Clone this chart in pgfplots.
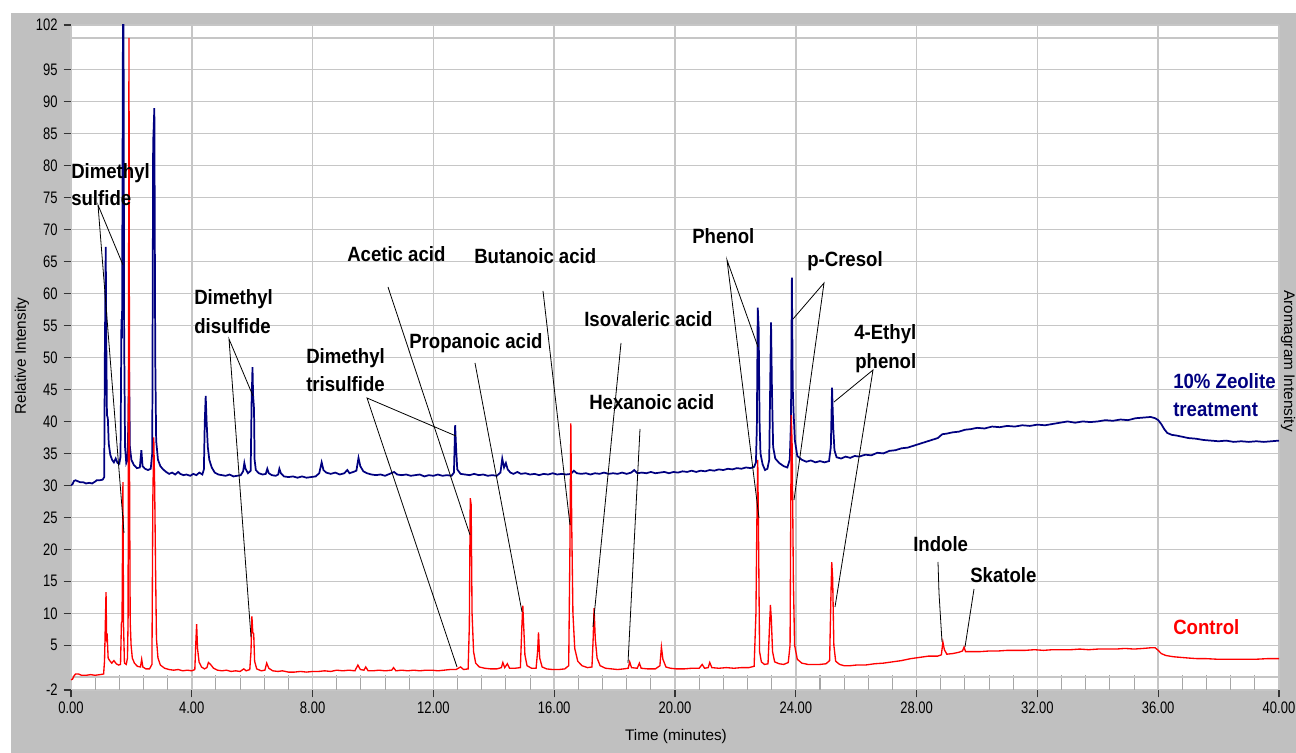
\documentclass[border=0pt]{standalone}
\usepackage{fontspec}
\setmainfont{Liberation Sans}
\newfontfamily\tickfont[FakeStretch=0.78]{Liberation Sans}
\newfontfamily\annfont[FakeStretch=0.9]{Liberation Sans}
\usepackage{pgfplots}
\pgfplotsset{compat=1.18}

\definecolor{bggray}{HTML}{C0C0C0}
\definecolor{gridgray}{HTML}{C6C6C6}
\definecolor{zeol}{HTML}{000080}
\definecolor{ctrl}{HTML}{FF0000}

\newcommand{\ann}{\annfont\bfseries\fontsize{15.5}{18}\selectfont}

\begin{document}
\begin{tikzpicture}
\useasboundingbox (0,0) rectangle (972pt,564.75pt);
\fill[white] (0,0) rectangle (972pt,564.75pt);
\fill[bggray] (8.25pt,0) rectangle (972pt,555pt);

\begin{axis}[
  at={(53.25pt,47.25pt)}, anchor=south west,
  width=906pt, height=498.75pt, scale only axis,
  xmin=0, xmax=40, ymin=-2, ymax=102,
  axis background/.style={fill=white},
  axis line style={draw=none},
  xtick pos=bottom, ytick pos=left,
  xtick={0,4,...,40},
  xticklabels={0.00,4.00,8.00,12.00,16.00,20.00,24.00,28.00,32.00,36.00,40.00},
  ytick={-2,5,10,15,20,25,30,35,40,45,50,55,60,65,70,75,80,85,90,95,102},
  yticklabels={-2,5,10,15,20,25,30,35,40,45,50,55,60,65,70,75,80,85,90,95,102},
  tick align=outside,
  major tick length=5.5pt,
  tick style={black!80, line width=0.8pt},
  xmajorgrids, ymajorgrids,
  grid style={gridgray, line width=1.1pt},
  tick label style={font=\tickfont\fontsize{12.5}{14}\selectfont},
  yticklabel style={xshift=-1pt},
  extra x ticks={0.8,1.6,2.4,3.2,4.8,5.6,6.4,7.2,8.8,9.6,10.4,11.2,12.8,13.6,14.4,15.2,16.8,17.6,18.4,19.2,20.8,21.6,22.4,23.2,24.8,25.6,26.4,27.2,28.8,29.6,30.4,31.2,32.8,33.6,34.4,35.2,36.8,37.6,38.4,39.2},
  extra x tick labels={},
  extra x tick style={xtick align=inside, major tick length=11pt, grid=none, tick style={black!35, line width=0.8pt}},
  extra y ticks={0,100},
  extra y tick labels={},
  extra y tick style={major tick length=0pt, grid=major},
]

% 10% Zeolite treatment
\addplot[zeol, line width=1.3pt] coordinates {
(0.00,30.0)(0.05,30.2)(0.10,30.7)(0.15,30.8)(0.20,30.7)(0.30,30.5)(0.40,30.5)(0.50,30.3)(0.60,30.4)(0.70,30.3)(0.80,30.6)(0.85,30.8)(0.95,30.8)(1.05,30.9)(1.10,31.3)(1.12,50)(1.15,67.3)(1.17,52)(1.19,41)(1.22,40.5)(1.25,36.5)(1.30,34.8)(1.36,34.0)(1.42,33.6)(1.48,34.2)(1.54,33.5)(1.60,33.4)(1.64,34.5)(1.67,56)(1.69,53)(1.72,102)(1.74,102)(1.76,53)(1.79,36)(1.83,33.5)(1.87,34)(1.90,40)(1.92,50)(1.95,36)(2.00,34)(2.08,33.2)(2.18,32.7)(2.28,32.8)(2.33,35.5)(2.37,33)(2.45,32.6)(2.55,32.4)(2.64,32.6)(2.69,35)(2.72,83.5)(2.76,89)(2.79,50)(2.82,37)(2.88,34)(2.96,33)(3.05,32.5)(3.15,32.1)(3.25,31.8)(3.35,32.0)(3.45,31.7)(3.55,32.1)(3.62,31.8)(3.72,31.6)(3.82,31.7)(3.95,31.5)(4.05,31.8)(4.15,31.6)(4.25,32.0)(4.35,31.7)(4.40,32.5)(4.43,40)(4.46,44)(4.49,40)(4.53,36)(4.58,34)(4.66,32.8)(4.76,32.0)(4.88,31.7)(5.00,31.6)(5.12,31.5)(5.25,31.7)(5.38,31.4)(5.50,31.5)(5.62,31.6)(5.70,32.2)(5.74,33.5)(5.78,32.6)(5.86,31.9)(5.95,32.3)(5.98,43)(6.01,48.5)(6.03,44)(6.06,42)(6.08,34)(6.12,32.4)(6.22,31.9)(6.35,31.7)(6.45,31.8)(6.50,32.6)(6.55,31.9)(6.65,31.6)(6.78,31.5)(6.86,31.7)(6.90,32.6)(6.95,31.9)(7.05,31.4)(7.20,31.3)(7.35,31.4)(7.50,31.2)(7.65,31.4)(7.80,31.2)(7.95,31.3)(8.10,31.4)(8.22,31.9)(8.30,33.6)(8.36,32.4)(8.45,32.0)(8.60,31.8)(8.75,32.0)(8.90,31.7)(9.05,31.9)(9.15,32.4)(9.22,31.9)(9.35,32.1)(9.45,32.3)(9.52,34.3)(9.58,33.0)(9.68,32.2)(9.80,31.9)(9.95,31.7)(10.10,31.6)(10.25,31.7)(10.40,31.5)(10.55,31.8)(10.70,32.1)(10.80,31.7)(10.95,31.6)(11.10,31.7)(11.25,31.5)(11.40,31.6)(11.55,31.7)(11.70,31.4)(11.85,31.6)(12.00,31.5)(12.15,31.7)(12.30,31.5)(12.45,31.6)(12.60,31.5)(12.68,32.0)(12.72,39.4)(12.75,36)(12.79,32.5)(12.90,31.8)(13.05,31.7)(13.20,31.6)(13.35,31.8)(13.50,31.6)(13.65,31.7)(13.80,31.5)(13.95,31.6)(14.10,31.5)(14.22,32.0)(14.28,34.2)(14.34,32.8)(14.40,33.5)(14.46,32.5)(14.55,32.0)(14.65,31.8)(14.78,32.1)(14.90,31.8)(15.05,31.9)(15.20,31.7)(15.35,31.8)(15.50,31.6)(15.65,31.8)(15.80,31.7)(15.95,31.9)(16.10,31.7)(16.25,31.8)(16.40,31.7)(16.55,31.8)(16.65,32.3)(16.75,31.9)(16.90,31.8)(17.05,31.9)(17.20,31.7)(17.35,31.9)(17.50,31.8)(17.65,32.0)(17.80,31.8)(17.95,31.9)(18.10,31.8)(18.25,32.0)(18.40,31.8)(18.55,32.0)(18.65,32.4)(18.75,31.9)(18.90,32.0)(19.05,31.9)(19.20,32.1)(19.35,31.9)(19.50,32.0)(19.65,32.1)(19.80,31.9)(19.95,32.1)(20.10,32.0)(20.25,32.2)(20.40,32.1)(20.55,32.3)(20.70,32.1)(20.85,32.3)(21.00,32.2)(21.15,32.4)(21.30,32.3)(21.45,32.5)(21.60,32.4)(21.75,32.6)(21.90,32.5)(22.05,32.7)(22.20,32.6)(22.35,32.8)(22.50,32.7)(22.62,32.9)(22.68,33.6)(22.71,39)(22.74,57.8)(22.77,54.7)(22.80,40)(22.83,35)(22.90,33.3)(22.98,32.4)(23.06,32.6)(23.12,34)(23.15,45)(23.18,55.5)(23.21,45)(23.25,36)(23.32,34.2)(23.45,33.5)(23.60,33.0)(23.72,32.8)(23.80,34)(23.84,40)(23.87,62.5)(23.90,45)(23.93,41)(23.97,37)(24.05,34.6)(24.20,34.0)(24.35,33.7)(24.50,33.9)(24.65,33.6)(24.80,33.8)(24.95,33.6)(25.10,33.8)(25.16,36)(25.20,45.3)(25.24,39)(25.28,35.5)(25.35,34.4)(25.50,34.2)(25.65,34.5)(25.80,34.3)(25.95,34.6)(26.10,34.5)(26.30,34.8)(26.50,34.7)(26.70,35.1)(26.90,35.0)(27.10,35.4)(27.30,35.5)(27.50,35.8)(27.70,35.9)(27.90,36.2)(28.10,36.5)(28.30,36.8)(28.50,37.1)(28.70,37.4)(28.85,38.0)(29.00,38.1)(29.20,38.3)(29.40,38.4)(29.60,38.7)(29.80,38.8)(30.00,39.0)(30.25,38.9)(30.50,39.2)(30.75,39.1)(31.00,39.3)(31.25,39.2)(31.50,39.4)(31.75,39.3)(32.00,39.5)(32.25,39.4)(32.50,39.6)(32.75,39.8)(33.00,40.0)(33.25,39.8)(33.50,40.0)(33.75,39.9)(34.00,40.0)(34.25,40.2)(34.50,40.1)(34.75,40.3)(35.00,40.2)(35.25,40.5)(35.50,40.6)(35.75,40.7)(35.90,40.5)(36.00,40.2)(36.10,39.6)(36.20,38.8)(36.30,38.2)(36.45,37.9)(36.60,37.8)(36.80,37.6)(37.00,37.4)(37.25,37.3)(37.50,37.1)(37.75,37.0)(38.00,36.9)(38.25,37.0)(38.50,36.8)(38.75,36.9)(39.00,36.8)(39.25,36.9)(39.50,36.8)(39.75,36.9)(40.00,37.0)
};

% Control
\addplot[ctrl, line width=1.0pt] coordinates {
(0.00,-0.4)(0.05,-0.3)(0.10,0.2)(0.15,0.5)(0.25,0.5)(0.35,0.3)(0.50,0.3)(0.65,0.4)(0.80,0.3)(0.95,0.4)(1.08,0.5)(1.11,2.5)(1.14,9)(1.16,13.3)(1.18,6)(1.20,6.3)(1.23,3)(1.28,2.6)(1.35,2.2)(1.42,2.6)(1.50,2.1)(1.58,1.9)(1.64,2.0)(1.67,8.5)(1.69,8.7)(1.72,30.5)(1.74,8)(1.77,2.2)(1.83,2.0)(1.87,3)(1.89,8.7)(1.92,100)(1.94,30)(1.96,8.7)(1.99,5)(2.03,3)(2.10,2.2)(2.20,1.7)(2.30,1.6)(2.34,2.8)(2.38,1.6)(2.48,1.3)(2.60,1.3)(2.68,2.0)(2.71,27.8)(2.74,37.5)(2.77,30)(2.80,17)(2.83,6)(2.88,3)(2.96,1.9)(3.10,1.4)(3.25,1.2)(3.40,1.1)(3.55,1.2)(3.70,1.0)(3.85,1.1)(4.00,1.0)(4.10,1.2)(4.13,5)(4.16,8.3)(4.19,4.5)(4.24,2.4)(4.32,1.6)(4.42,1.3)(4.50,1.5)(4.55,2.3)(4.62,2.0)(4.72,1.4)(4.85,1.1)(5.00,1.0)(5.15,1.1)(5.30,0.9)(5.45,1.0)(5.60,0.9)(5.72,1.3)(5.80,1.0)(5.92,1.2)(5.96,4)(5.99,9.5)(6.02,7)(6.05,6.8)(6.08,2.5)(6.15,1.3)(6.30,1.0)(6.42,1.1)(6.48,2.2)(6.55,1.4)(6.68,1.0)(6.85,0.9)(7.00,1.0)(7.20,0.8)(7.40,0.8)(7.60,0.9)(7.80,0.8)(8.00,0.9)(8.20,0.9)(8.40,1.0)(8.60,0.9)(8.80,1.1)(9.00,1.0)(9.20,1.1)(9.40,1.0)(9.50,1.9)(9.58,1.2)(9.70,1.1)(9.76,1.6)(9.84,1.0)(10.00,1.0)(10.20,1.1)(10.40,1.0)(10.62,1.1)(10.68,1.5)(10.76,1.0)(10.95,1.1)(11.15,1.0)(11.35,1.1)(11.55,1.0)(11.75,1.1)(11.95,1.1)(12.15,1.0)(12.35,1.1)(12.55,1.2)(12.75,1.2)(12.90,1.6)(13.00,1.2)(13.15,1.3)(13.19,8)(13.22,28)(13.25,27)(13.28,10)(13.33,4)(13.40,2.2)(13.52,1.6)(13.70,1.4)(13.90,1.3)(14.10,1.3)(14.25,1.5)(14.30,2.3)(14.36,1.5)(14.45,2.1)(14.52,1.4)(14.70,1.4)(14.88,1.5)(14.93,8)(14.96,11.2)(14.99,8)(15.03,3.5)(15.10,1.8)(15.25,1.4)(15.40,1.4)(15.45,4)(15.48,7.0)(15.52,3)(15.60,1.6)(15.75,1.3)(15.95,1.2)(16.15,1.2)(16.35,1.3)(16.48,1.8)(16.52,20)(16.55,39.7)(16.58,24)(16.62,10)(16.68,4.5)(16.78,2.5)(16.92,1.8)(17.10,1.5)(17.25,1.6)(17.29,6)(17.32,10.8)(17.36,6)(17.42,3)(17.52,1.8)(17.70,1.4)(17.90,1.3)(18.10,1.2)(18.30,1.3)(18.45,1.4)(18.50,2.4)(18.56,1.5)(18.75,1.4)(18.82,2.2)(18.88,1.4)(19.10,1.3)(19.35,1.3)(19.50,1.8)(19.55,4.7)(19.60,2.8)(19.70,1.6)(19.85,1.4)(20.05,1.3)(20.30,1.3)(20.55,1.4)(20.80,1.4)(20.90,2.0)(20.98,1.4)(21.10,1.5)(21.15,2.3)(21.22,1.5)(21.45,1.4)(21.70,1.5)(21.95,1.4)(22.20,1.5)(22.45,1.5)(22.62,1.7)(22.68,10)(22.71,24)(22.74,34)(22.77,20)(22.80,4)(22.86,2.4)(22.96,2.0)(23.08,2.1)(23.13,8)(23.16,11.3)(23.19,9)(23.23,4)(23.30,2.4)(23.45,2.1)(23.60,2.0)(23.75,2.3)(23.81,5)(23.85,41)(23.88,36)(23.92,15)(23.96,5)(24.05,2.8)(24.20,2.2)(24.40,2.0)(24.60,2.0)(24.80,2.0)(25.00,2.1)(25.12,2.6)(25.16,12)(25.19,18)(25.22,15.5)(25.26,5)(25.32,2.5)(25.45,2.0)(25.60,1.8)(25.80,1.8)(26.00,1.9)(26.30,1.9)(26.60,2.1)(26.90,2.2)(27.20,2.4)(27.50,2.6)(27.80,2.9)(28.10,3.1)(28.40,3.3)(28.70,3.3)(28.82,3.5)(28.87,5.5)(28.92,4.3)(29.00,3.6)(29.20,3.7)(29.40,3.9)(29.52,4.1)(29.57,4.7)(29.62,4.0)(29.80,4.0)(30.10,4.0)(30.40,4.1)(30.70,4.1)(31.00,4.2)(31.30,4.2)(31.60,4.2)(31.90,4.3)(32.20,4.2)(32.50,4.3)(32.80,4.3)(33.10,4.3)(33.40,4.4)(33.70,4.3)(34.00,4.4)(34.30,4.4)(34.60,4.4)(34.90,4.5)(35.20,4.4)(35.50,4.5)(35.75,4.6)(35.90,4.6)(36.00,4.2)(36.10,3.7)(36.25,3.4)(36.50,3.2)(36.75,3.1)(37.00,3.0)(37.30,2.9)(37.60,2.9)(38.00,2.8)(38.40,2.8)(38.80,2.8)(39.20,2.8)(39.60,2.9)(40.00,2.9)
};
\end{axis}

% labels and leader lines, in pixel units of the reference (y down)
\begin{scope}[x=0.75pt, y=-0.75pt, yshift=564.75pt]
  \node[rotate=90, font=\fontsize{11.5}{13}\selectfont] at (22,356) {Relative Intensity};
  \node[rotate=-90, font=\fontsize{11.5}{13}\selectfont] at (1288,361) {Aromagram Intensity};
  \node[font=\fontsize{11.5}{13}\selectfont] at (676,737) {Time (minutes)};

  \begin{scope}[black, line width=0.6pt]
    \draw (123,265) -- (98,205) -- (124,533);
    \draw (253,396) -- (229,339) -- (251,637);
    \draw (456,436) -- (367,398) -- (457,667);
    \draw (388,287) -- (470,535);
    \draw (475,363) -- (522,612);
    \draw (543,291) -- (570,525);
    \draw (621,343) -- (593,627);
    \draw (640,429) -- (628,663);
    \draw (758,347) -- (727,260) -- (759,518);
    \draw (793,319) -- (824,283) -- (794,500);
    \draw (834,402) -- (873,370) -- (835,607);
    \draw (938,562) -- (939,593) -- (942,642);
    \draw (974,589) -- (965,647);
  \end{scope}

  \begin{scope}[every node/.style={anchor=base west, inner sep=0pt, font=\ann}]
    \node at (71,179) {Dimethyl};
    \node at (71,206) {sulfide};
    \node at (194,305) {Dimethyl};
    \node at (194,334) {disulfide};
    \node at (306,364) {Dimethyl};
    \node at (306,392) {trisulfide};
    \node at (347,262) {Acetic acid};
    \node at (474,264) {Butanoic acid};
    \node at (409,349) {Propanoic acid};
    \node at (584,327) {Isovaleric acid};
    \node at (589,410) {Hexanoic acid};
    \node at (692,244) {Phenol};
    \node at (807,267) {p-Cresol};
    \node at (854,340) {4-Ethyl};
    \node at (855,369) {phenol};
    \node at (913,552) {Indole};
    \node at (970,583) {Skatole};
    \node[text=zeol] at (1173,389) {10\% Zeolite};
    \node[text=zeol] at (1173,417) {treatment};
    \node[text=ctrl] at (1173,635) {Control};
  \end{scope}
\end{scope}
\end{tikzpicture}
\end{document}
